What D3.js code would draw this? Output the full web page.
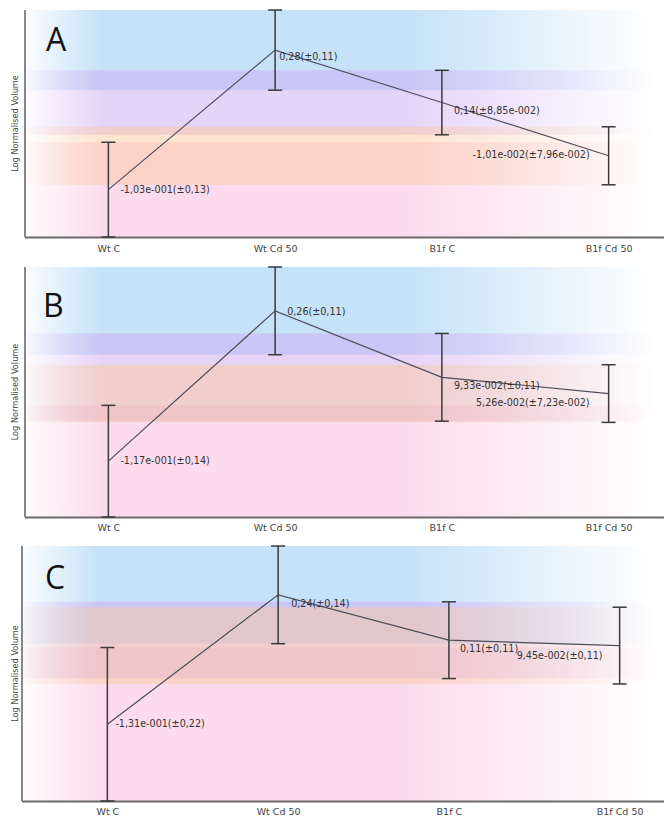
<!DOCTYPE html>
<html><head><meta charset="utf-8">
<script src="https://cdn.jsdelivr.net/npm/d3@7"></script>
<style>
html,body{margin:0;padding:0;background:#fff;}
svg{display:block;}
</style>
</head><body>
<svg id="chart" width="664" height="818"></svg>
<script>
// ---- data ----
const categories = ["Wt C", "Wt Cd 50", "B1f C", "B1f Cd 50"];
const panelNames = ["A", "B", "C"];

const meansA = [-0.103, 0.28, 0.136, -0.0101];
const errA   = [0.13, 0.11, 0.0885, 0.0796];
const labelsA = ["-1,03e-001(±0,13)", "0,28(±0,11)", "0,14(±8,85e-002)", "-1,01e-002(±7,96e-002)"];

const meansB = [-0.117, 0.26, 0.0933, 0.0526];
const errB   = [0.14, 0.11, 0.11, 0.0723];
const labelsB = ["-1,17e-001(±0,14)", "0,26(±0,11)", "9,33e-002(±0,11)", "5,26e-002(±7,23e-002)"];

const meansC = [-0.131, 0.24, 0.11, 0.0945];
const errC   = [0.22, 0.14, 0.11, 0.11];
const labelsC = ["-1,31e-001(±0,22)", "0,24(±0,14)", "0,11(±0,11)", "9,45e-002(±0,11)"];

const yTitle = "Log Normalised Volume";

// ---- styles / layout ----
const bandColors = ["#f9b9d9", "#8dc5f1", "#cda9f1", "#fbc9a1"];
const layouts = [
  {x0: 25, x1: 692, yTop: 10, yBot: 237, tickY: 252, letter: [46, 51],
   lab: [[12,0,"start"],[4,7,"start"],[12,8,"start"],[-19,-1,"end"]]},
  {x0: 25, x1: 692, yTop: 267, yBot: 517, tickY: 531, letter: [43, 317],
   lab: [[12,0,"start"],[12,1,"start"],[12,9,"start"],[-19,9,"end"]]},
  {x0: 22, x1: 705, yTop: 546, yBot: 801, tickY: 815, letter: [45, 589],
   lab: [[8,0,"start"],[13,9,"start"],[11,9,"start"],[-17,10,"end"]]}
];
const panelsData = [
  {means: meansA, err: errA, labels: labelsA},
  {means: meansB, err: errB, labels: labelsB},
  {means: meansC, err: errC, labels: labelsC}
];

const W = 664;
const svg = d3.select("#chart");
const defs = svg.append("defs");

panelsData.forEach((pd, pi) => {
  const L = layouts[pi];
  const g = svg.append("g");
  const x = d3.scalePoint().domain(categories).range([L.x0, L.x1]).padding(0.5);
  const lows = pd.means.map((m, i) => m - pd.err[i]);
  const highs = pd.means.map((m, i) => m + pd.err[i]);
  const y = d3.scaleLinear().domain([d3.min(lows), d3.max(highs)]).range([L.yBot, L.yTop]);

  // gradients per series
  bandColors.forEach((c, si) => {
    const gr = defs.append("linearGradient")
      .attr("id", `grad${pi}_${si}`)
      .attr("gradientUnits", "userSpaceOnUse")
      .attr("x1", L.x0).attr("x2", W).attr("y1", 0).attr("y2", 0);
    [[0, 0.04], [0.12, 0.5], [0.6, 0.5], [0.985, 0]].forEach(([o, op]) => {
      gr.append("stop").attr("offset", o).attr("stop-color", c).attr("stop-opacity", op);
    });
  });

  // bands = error ranges
  g.append("g").selectAll("rect").data(categories).join("rect")
    .attr("x", L.x0)
    .attr("width", W - L.x0)
    .attr("y", (d, i) => y(highs[i]))
    .attr("height", (d, i) => y(lows[i]) - y(highs[i]))
    .attr("fill", (d, i) => `url(#grad${pi}_${i})`);

  // axes
  const xAxis = d3.axisBottom(x).tickSize(0).tickPadding(0);
  const ax = g.append("g").attr("transform", `translate(0,${L.yBot})`).call(xAxis);
  ax.select(".domain").remove();
  ax.selectAll("text").attr("y", L.tickY - L.yBot).attr("dy", 0)
    .attr("fill", "#444").style("font-family", "DejaVu Sans, sans-serif").style("font-size", "9.5px");
  g.append("line").attr("x1", L.x0).attr("x2", W).attr("y1", L.yBot + 0.5).attr("y2", L.yBot + 0.5)
    .attr("stroke", "#6a6a6a").attr("stroke-width", 2);
  g.append("line").attr("x1", L.x0).attr("x2", L.x0).attr("y1", L.yTop).attr("y2", L.yBot)
    .attr("stroke", "#6a6a6a").attr("stroke-width", 1.6);

  // y title
  g.append("text")
    .attr("transform", `translate(15,${(L.yTop + L.yBot) / 2}) rotate(-90)`)
    .attr("text-anchor", "middle").attr("dominant-baseline", "middle")
    .attr("fill", "#444").style("font-family", "DejaVu Sans, sans-serif").style("font-size", "8.2px")
    .text(yTitle);

  // connecting line
  const line = d3.line().x((d, i) => x(categories[i])).y(d => y(d));
  g.append("path").datum(pd.means).attr("d", line)
    .attr("fill", "none").attr("stroke", "#4d4d5a").attr("stroke-width", 1.2);

  // error bars
  const eb = g.append("g").attr("stroke", "#3a3a3a").attr("stroke-width", 1.5);
  categories.forEach((c, i) => {
    const cx = x(c);
    eb.append("line").attr("x1", cx).attr("x2", cx).attr("y1", y(highs[i])).attr("y2", y(lows[i]));
    eb.append("line").attr("x1", cx - 7).attr("x2", cx + 7).attr("y1", y(highs[i])).attr("y2", y(highs[i]));
    eb.append("line").attr("x1", cx - 7).attr("x2", cx + 7).attr("y1", y(lows[i])).attr("y2", y(lows[i]));
  });

  // value labels
  g.append("g").selectAll("text").data(pd.labels).join("text")
    .attr("x", (d, i) => x(categories[i]) + L.lab[i][0])
    .attr("y", (d, i) => y(pd.means[i]) + L.lab[i][1])
    .attr("text-anchor", (d, i) => L.lab[i][2])
    .attr("dominant-baseline", "middle")
    .attr("fill", "#333")
    .style("font-family", "DejaVu Sans, sans-serif").style("font-size", "9.6px")
    .text(d => d);

  // panel letter
  g.append("text").attr("x", L.letter[0]).attr("y", L.letter[1])
    .attr("fill", "#111").style("font-family", "Open Sans, sans-serif").style("font-size", "32px")
    .text(panelNames[pi]);
});
</script>
</body></html>
